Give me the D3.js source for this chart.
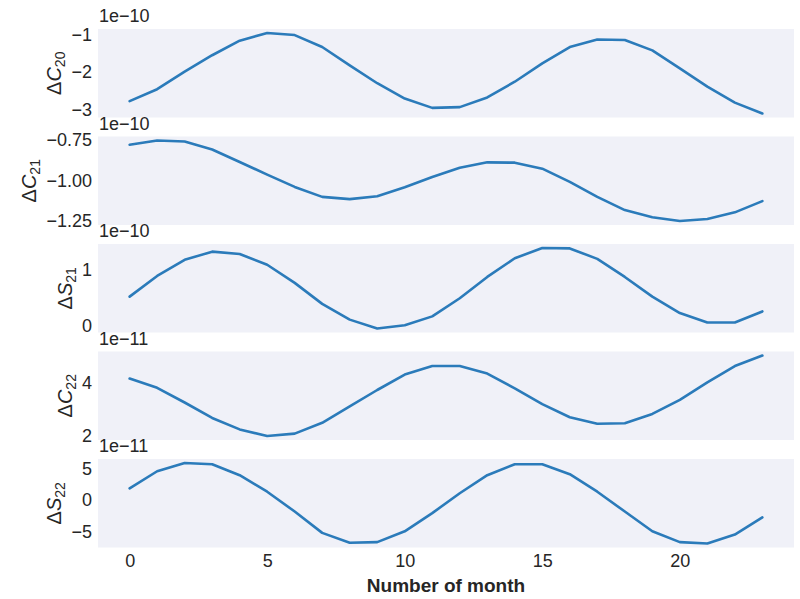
<!DOCTYPE html>
<html>
<head>
<meta charset="utf-8">
<script src="https://cdn.jsdelivr.net/npm/d3@7"></script>
<style>
  body { margin: 0; background: #ffffff; }
  svg { display: block; font-family: "Liberation Sans", Arial, sans-serif; }
</style>
</head>
<body>
<svg id="chart" width="800" height="599"></svg>
<script>
// Monthly variations of the low-degree Stokes coefficients
const months = d3.range(0, 24);

// Values are in units of the offset shown above each panel
const dC20 = [-2.78, -2.46, -1.99, -1.55, -1.16, -0.955, -1.01, -1.33, -1.82, -2.30, -2.71, -2.96,
              -2.94, -2.68, -2.26, -1.77, -1.33, -1.13, -1.14, -1.42, -1.90, -2.39, -2.82, -3.11];
const dC21 = [-0.782, -0.756, -0.762, -0.811, -0.888, -0.965, -1.041, -1.102, -1.116, -1.098, -1.043, -0.980,
              -0.923, -0.890, -0.892, -0.929, -1.010, -1.102, -1.183, -1.227, -1.250, -1.238, -1.197, -1.128];
const dS21 = [0.52, 0.884, 1.168, 1.312, 1.272, 1.081, 0.763, 0.393, 0.116, -0.040, 0.017, 0.173,
              0.492, 0.867, 1.196, 1.376, 1.369, 1.185, 0.867, 0.52, 0.232, 0.064, 0.064, 0.26];
const dC22 = [4.165, 3.81, 3.25, 2.66, 2.225, 1.974, 2.064, 2.477, 3.10, 3.726, 4.315, 4.638,
              4.638, 4.353, 3.79, 3.19, 2.687, 2.44, 2.46, 2.814, 3.35, 4.015, 4.638, 5.04];
const dS22 = [1.85, 4.57, 5.88, 5.68, 3.94, 1.31, -1.85, -5.25, -6.83, -6.73, -5.0, -2.10,
              1.06, 3.94, 5.68, 5.68, 4.10, 1.31, -1.85, -5.0, -6.73, -6.94, -5.52, -2.79];

const seriesValues = [dC20, dC21, dS21, dC22, dS22];
const labelLetters = ["C", "C", "S", "C", "S"];
const labelSubs = ["20", "21", "21", "22", "22"];
const offsetTexts = ["1e\u221210", "1e\u221210", "1e\u221210", "1e\u221211", "1e\u221211"];
const yTicks = [[-3, -2, -1], [-1.25, -1.00, -0.75], [0, 1], [2, 4], [-5, 0, 5]];
const yTickDecimals = [0, 2, 0, 0, 0];
const xTicks = [0, 5, 10, 15, 20];
const xLabel = "Number of month";

const svg = d3.select("#chart");
const left = 98, right = 794;
const top0 = 29, step = 107.5, panelH = 88.5;
const lineColor = "#2b7bba";
const bgColor = "#f0f1f8";
const textColor = "#262626";
const tickFont = 18;

const pad = (ext) => { const d = ext[1] - ext[0]; return [ext[0] - 0.05 * d, ext[1] + 0.05 * d]; };

const x = d3.scaleLinear().domain(pad(d3.extent(months))).range([left, right]);
const fmtMinus = (s) => s.replace("-", "\u2212");

seriesValues.forEach((vals, i) => {
  const top = top0 + i * step;
  const y = d3.scaleLinear().domain(pad(d3.extent(vals))).range([top + panelH, top]);
  const g = svg.append("g");

  g.append("rect")
    .attr("x", left).attr("y", top)
    .attr("width", right - left).attr("height", panelH)
    .attr("fill", bgColor);

  const dec = yTickDecimals[i];
  const yAxis = d3.axisLeft(y)
    .tickValues(yTicks[i])
    .tickSize(0)
    .tickPadding(6)
    .tickFormat(d => fmtMinus(d.toFixed(dec)));
  const ay = g.append("g").attr("transform", `translate(${left},0)`).call(yAxis);
  ay.select(".domain").remove();
  ay.selectAll("text").attr("font-size", tickFont).attr("fill", textColor)
    .attr("font-family", "'Liberation Sans', Arial, sans-serif");

  // Width of the widest tick label, used to place the axis title
  let maxW = 0;
  ay.selectAll("text").each(function () { maxW = Math.max(maxW, this.getBBox().width); });

  const line = d3.line().x((d, j) => x(months[j])).y(d => y(d));
  g.append("path")
    .datum(vals)
    .attr("d", line)
    .attr("fill", "none")
    .attr("stroke", lineColor)
    .attr("stroke-width", 2.6)
    .attr("stroke-linejoin", "round")
    .attr("stroke-linecap", "round");

  // Scale factor above the axis
  g.append("text")
    .attr("x", left + 1).attr("y", top - 7)
    .attr("font-size", tickFont).attr("fill", textColor)
    .text(offsetTexts[i]);

  // Axis title: Δ, italic letter, subscript degree/order
  const lx = left - 6 - maxW - 10;
  const cy = top + panelH / 2;
  const t = g.append("text")
    .attr("transform", `translate(${lx},${cy}) rotate(-90)`)
    .attr("text-anchor", "middle")
    .attr("font-size", 20).attr("fill", textColor);
  t.append("tspan").text("\u0394");
  t.append("tspan").attr("font-style", "italic").text(labelLetters[i]);
  t.append("tspan").attr("font-size", 14).attr("dy", 4).text(labelSubs[i]);
});

// Shared month axis under the last panel
const lastBottom = top0 + 4 * step + panelH;
const xAxis = d3.axisBottom(x).tickValues(xTicks).tickSize(0).tickPadding(7).tickFormat(d3.format("d"));
const ax = svg.append("g").attr("transform", `translate(0,${lastBottom})`).call(xAxis);
ax.select(".domain").remove();
ax.selectAll("text").attr("font-size", tickFont).attr("fill", textColor)
  .attr("font-family", "'Liberation Sans', Arial, sans-serif");

svg.append("text")
  .attr("x", (left + right) / 2).attr("y", 592)
  .attr("text-anchor", "middle")
  .attr("font-size", 19).attr("font-weight", "bold").attr("fill", textColor)
  .text(xLabel);
</script>
</body>
</html>
